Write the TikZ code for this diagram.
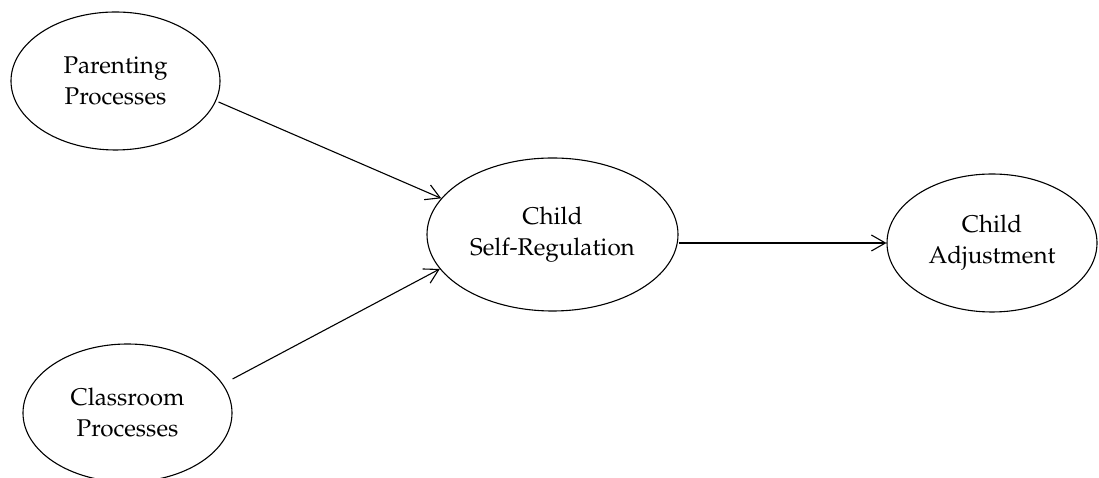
\documentclass[tikz,border=0pt]{standalone}
\usepackage[T1]{fontenc}
\usepackage{mathpazo}
\usetikzlibrary{shapes.geometric,arrows.meta}

\begin{document}
\begin{tikzpicture}[x=1pt, y=1pt,
   every node/.style={draw, ellipse, line width=1.1pt, inner sep=0pt, align=center,
                      font=\fontsize{24.2}{31}\selectfont},
   latent/.style={minimum width=209pt, minimum height=138pt},
   link/.style={line width=1.1pt, -{Straight Barb[length=14pt, width=16pt]}}]

\useasboundingbox (0,0) rectangle (1099,478);

\node[latent] (pp) at (115.5,397) {Parenting\\Processes};
\node[latent] (cp) at (127.5,65) {Classroom\\Processes};
\node[latent, minimum width=251pt, minimum height=153pt] (sr) at (552.5,243.5) {Child\\Self-Regulation};
\node[latent, minimum width=210pt] (ca) at (992,235) {Child\\Adjustment};

\draw[link] ([shift={(-2pt,-21pt)}]pp.east) -- (sr.162.7);
\draw[link] ([yshift=34pt]cp.east) -- (sr.197.3);
\draw[link] (sr.east |- ca.west) -- (ca.west);

\end{tikzpicture}
\end{document}
